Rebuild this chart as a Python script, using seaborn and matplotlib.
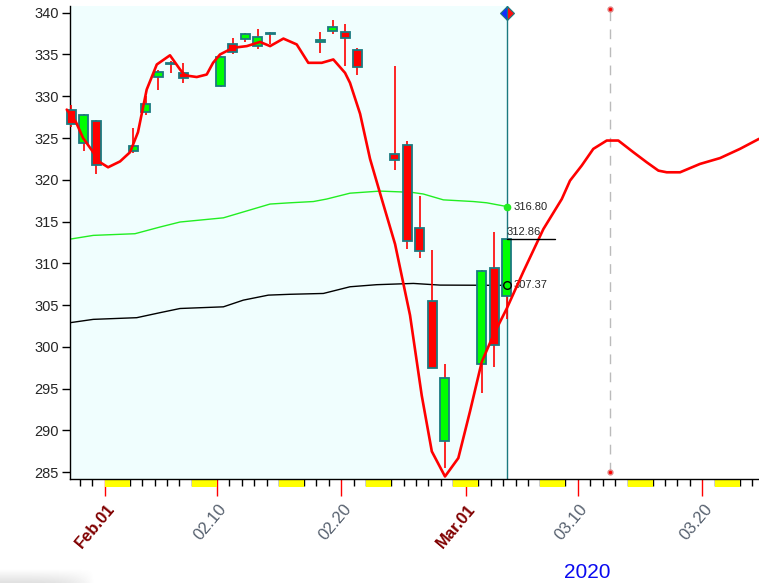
import numpy as np
import pandas as pd
import seaborn as sns
import matplotlib
matplotlib.use("Agg")
import matplotlib.pyplot as plt
from matplotlib.transforms import ScaledTranslation

# daily candles
dates = ["2020-01-29", "2020-01-30", "2020-01-31", "2020-02-03", "2020-02-04",
         "2020-02-05", "2020-02-06", "2020-02-07", "2020-02-10", "2020-02-11",
         "2020-02-12", "2020-02-13", "2020-02-14", "2020-02-18", "2020-02-19",
         "2020-02-20", "2020-02-21", "2020-02-24", "2020-02-25", "2020-02-26",
         "2020-02-27", "2020-02-28", "2020-03-02", "2020-03-03", "2020-03-04"]
opens = [328.4, 324.4, 327.0, 323.4, 328.1, 332.3, 333.9, 332.8, 331.2, 336.2,
         336.8, 336.0, 337.5, 336.5, 337.8, 337.7, 335.5, 323.1, 324.2, 314.2,
         305.5, 288.7, 298.0, 309.5, 306.1]
highs = [329.0, 327.9, 327.2, 326.2, 330.0, 333.1, 334.2, 334.0, 334.8, 337.0,
         337.6, 338.0, 337.7, 337.7, 339.1, 338.6, 335.8, 333.6, 324.6, 318.1,
         311.6, 297.9, 309.2, 313.8, 312.9]
lows = [326.3, 323.5, 320.7, 323.2, 327.7, 330.7, 332.8, 331.6, 331.1, 335.0,
        336.5, 335.6, 336.2, 335.2, 337.5, 333.6, 332.6, 321.2, 311.7, 310.7,
        297.5, 285.5, 294.5, 297.6, 303.3]
closes = [326.7, 327.7, 321.8, 324.1, 329.1, 332.9, 334.0, 332.2, 334.7, 335.3,
          337.4, 337.1, 337.6, 336.7, 338.3, 337.0, 333.5, 322.4, 312.7, 311.5,
          297.5, 296.3, 309.1, 300.2, 312.9]

# thick red curve, x = days after Feb 1
red_days = [-3.05, -2.31, -1.74, -1.02, -0.38, 0.27, 1.23, 2.03, 2.67, 3.37,
            4.18, 5.24, 6.05, 6.45, 7.39, 8.19, 8.70, 9.26, 10.31, 11.41,
            12.47, 13.28, 14.35, 15.42, 16.35, 17.43, 18.36, 19.30, 19.70, 20.51,
            21.31, 22.25, 23.32, 24.52, 25.46, 26.27, 27.33, 28.40, 29.34, 30.28,
            31.21, 32.29, 33.62, 35.23, 36.71, 37.37, 38.31, 39.24, 40.32, 41.25,
            42.46, 43.53, 44.47, 45.14, 46.21, 47.81, 49.42, 51.02, 52.55]
red_vals = [328.4, 326.9, 325.0, 323.5, 322.1, 321.5, 322.2, 323.3, 325.7, 330.8,
            333.8, 334.9, 333.2, 332.5, 332.3, 332.6, 334.0, 335.0, 335.8, 336.0,
            336.5, 336.0, 336.9, 336.2, 334.0, 334.0, 334.4, 332.8, 331.6, 327.9,
            322.5, 317.7, 312.3, 303.8, 294.2, 287.5, 284.5, 286.7, 292.3, 298.2,
            301.4, 304.6, 309.0, 314.1, 317.7, 319.9, 321.7, 323.7, 324.7, 324.7,
            323.3, 322.1, 321.1, 320.9, 320.9, 321.9, 322.6, 323.7, 324.9]

# upper (green) and lower (black) averages
green_days = [-2.79, -0.92, 2.43, 4.44, 6.05, 9.53, 13.28, 14.88, 16.76, 17.83,
              19.70, 22.11, 24.66, 25.59, 27.20, 29.61, 30.68, 32.3]
green_vals = [312.9, 313.35, 313.55, 314.35, 314.95, 315.45, 317.1, 317.25, 317.4, 317.7,
              318.4, 318.65, 318.5, 318.3, 317.6, 317.4, 317.25, 316.80]
black_days = [-2.79, -0.92, 2.57, 4.44, 6.05, 9.53, 11.13, 13.14, 14.88, 17.56,
              19.70, 21.85, 24.79, 26.93, 32.3]
black_vals = [302.9, 303.3, 303.5, 304.1, 304.6, 304.8, 305.6, 306.2, 306.3, 306.4,
              307.2, 307.45, 307.6, 307.4, 307.37]

last_close = 312.86
green_last = 316.80
black_last = 307.37

tick_days = [0, 9, 19, 29, 38, 48]
tick_labels = ["Feb.01", "02.10", "02.20", "Mar.01", "03.10", "03.20"]
weekend_days = [0, 7, 14, 21, 28, 35, 42, 49]
forecast_day = 40.6
forecast_hi = 340.4
forecast_lo = 285.0

sns.set_style("white")
plt.rcParams["font.family"] = ["Liberation Sans", "DejaVu Sans"]

teal = "#1b7a80"
fig = plt.figure(figsize=(7.59, 5.83), dpi=100)
ax = fig.add_axes([70 / 759, 103.7 / 583, 689 / 759, 473.3 / 583])
ax.set_xlim(-2.79, 52.55)
ax.set_ylim(284.16, 340.8)

cx = (pd.to_datetime(dates) - pd.Timestamp("2020-02-01")).days.values + 0.3
o = np.array(opens)
c = np.array(closes)

# history area
ax.axvspan(-2.79, cx[-1], color="#f0fefe", zorder=0, lw=0)
ax.axvline(cx[-1], color=teal, lw=1, zorder=2)

# weekends on the date axis
for d in weekend_days:
    ax.axvspan(d, d + 2, ymin=-0.016, ymax=0, color="#ffff00", lw=0, clip_on=False, zorder=1)

sns.lineplot(x=green_days, y=green_vals, color="#22ee22", lw=1, ax=ax, sort=False,
             estimator=None, errorbar=None, zorder=2)
sns.lineplot(x=black_days, y=black_vals, color="black", lw=1, ax=ax, sort=False,
             estimator=None, errorbar=None, zorder=2)

# candles
ax.vlines(cx, lows, highs, color="red", lw=1.2, zorder=3, clip_on=False)
cols = np.where(c >= o, "#00ff00", "#ff0000")
ax.bar(cx, np.abs(c - o), bottom=np.minimum(o, c), width=0.72, color=cols,
       edgecolor=teal, linewidth=1.3, zorder=4, clip_on=False)

sns.lineplot(x=red_days, y=red_vals, color="red", lw=1.9, ax=ax, sort=False,
             estimator=None, errorbar=None, zorder=5)
ax.lines[-1].set_clip_on(False)

# last values
ax.plot([cx[-1], cx[-1] + 3.9], [last_close, last_close], color="black", lw=1, zorder=6)
ax.plot(cx[-1], green_last, marker="o", ms=4.5, color="#22ee22", zorder=7)
ax.plot(cx[-1], black_last, marker="o", ms=5.5, mfc="none", mec="black", mew=1, zorder=7)
ax.annotate(f"{green_last:.2f}", (cx[-1], green_last), xytext=(5, 0), textcoords="offset points",
            va="center", fontsize=8)
ax.annotate(f"{last_close:.2f}", (cx[-1], last_close), xytext=(0, 1.5), textcoords="offset points",
            va="bottom", fontsize=8)
ax.annotate(f"{black_last:.2f}", (cx[-1], black_last), xytext=(5, 0), textcoords="offset points",
            va="center", fontsize=8)
ax.plot(cx[-1], 340, marker="D", ms=7, fillstyle="left", mfc="#1030ff", mfcalt="#ff1010",
        mec=teal, mew=0.8, zorder=8, clip_on=False)

# forecast marker
ax.plot([forecast_day, forecast_day], [forecast_lo, forecast_hi], color="#bbbbbb", lw=1,
        dashes=(7, 6), zorder=1)
ax.plot([forecast_day, forecast_day], [forecast_lo, forecast_hi], ls="none", marker="o", ms=3.5,
        color="red", mec="#dd8888", zorder=7)

# axes styling
for s in ["top", "right"]:
    ax.spines[s].set_visible(False)
for s in ["left", "bottom"]:
    ax.spines[s].set_color("black")
    ax.spines[s].set_linewidth(1)

ax.set_yticks(np.arange(285, 341, 5))
ax.tick_params(axis="y", direction="out", length=6, width=1, color="black", labelsize=10.5, pad=2,
               left=True)
ax.set_xticks(tick_days)
ax.set_xticks(np.arange(-2, 53), minor=True)
ax.tick_params(axis="x", which="major", direction="out", length=12, width=1, color="red", pad=4,
               bottom=True)
ax.tick_params(axis="x", which="minor", direction="out", length=5, width=1, color="black",
               bottom=True)
ax.set_xticklabels(tick_labels)
shift = ScaledTranslation(0.13, 0, fig.dpi_scale_trans)
for lab in ax.get_xticklabels():
    bold = lab.get_text()[:1].isalpha()
    lab.set_rotation(50)
    lab.set_ha("right")
    lab.set_va("top")
    lab.set_fontsize(12)
    lab.set_color("#800000" if bold else "#56606e")
    lab.set_fontweight("bold" if bold else "normal")
    lab.set_transform(lab.get_transform() + shift)

fig.text(587 / 759, 1 - 572 / 583, "2020", ha="center", va="center", color="#0a0af0", fontsize=15)

# soft shadow in the bottom left corner
sh = fig.add_axes([0, 0, 95 / 759, 14 / 583])
gy = np.linspace(0, 1, 14)[:, None]
gx = np.linspace(0, 1, 95)[None, :]
shade = 1 - 0.12 * gy * (1 - gx ** 4)
sh.imshow(shade, cmap="gray", vmin=0, vmax=1, aspect="auto", origin="upper")
sh.axis("off")

fig.savefig("out.png", dpi=100)
